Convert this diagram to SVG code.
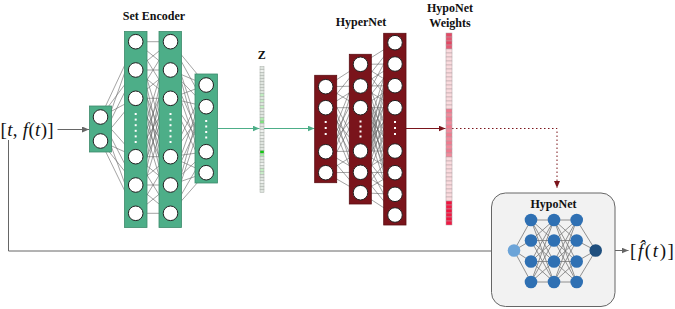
<svg xmlns="http://www.w3.org/2000/svg" width="675" height="309" viewBox="0 0 675 309">
<defs>
<style>
.lbl{font-family:"Liberation Serif","Times New Roman",serif;font-weight:bold;font-size:12px;fill:#111;text-anchor:middle}
.math{font-family:"Liberation Serif","DejaVu Serif",serif;font-size:19px;fill:#111}
.se{fill:#4dae88;stroke:#3d8a6c;stroke-width:0.8}
.hn{fill:#7a141b;stroke:#5a0e13;stroke-width:0.8}
.neu{fill:#fff;stroke:#222;stroke-width:1}
.dot{fill:#fff}
.cn{stroke:#666;stroke-width:0.6;fill:none}
.hcn{stroke:#777;stroke-width:0.8;fill:none}
.zc{stroke:#a8aea8;stroke-width:0.5}
.wc{stroke:#b0a0a4;stroke-width:0.5}
.hid{fill:#2f70b3}
</style>
<marker id="ag" markerWidth="8" markerHeight="6" refX="7" refY="3" orient="auto" markerUnits="userSpaceOnUse"><path d="M0,0 L7,3 L0,6 Z" fill="#666"/></marker>
<marker id="agr" markerWidth="8" markerHeight="6" refX="7" refY="3" orient="auto" markerUnits="userSpaceOnUse"><path d="M0,0 L7,3 L0,6 Z" fill="#4dae88"/></marker>
<marker id="ar" markerWidth="8" markerHeight="6" refX="7" refY="3" orient="auto" markerUnits="userSpaceOnUse"><path d="M0,0 L7,3 L0,6 Z" fill="#7a141b"/></marker>
</defs>

<!-- connectors -->
<g id="connectors">
 <!-- set encoder internal connections -->
 <g class="cn">
  <path d="M100.5,117 L135.7,41.7 M100.5,117 L135.7,70 M100.5,117 L135.7,98.3 M100.5,117 L135.7,156.7 M100.5,117 L135.7,185 M100.5,117 L135.7,213.3
  M100.5,141 L135.7,41.7 M100.5,141 L135.7,70 M100.5,141 L135.7,98.3 M100.5,141 L135.7,156.7 M100.5,141 L135.7,185 M100.5,141 L135.7,213.3"/>
  <path d="M135.7,41.7 L170.5,41.7 M135.7,41.7 L170.5,70 M135.7,41.7 L170.5,98.3 M135.7,41.7 L170.5,156.7 M135.7,41.7 L170.5,185 M135.7,41.7 L170.5,213.3
  M135.7,70 L170.5,41.7 M135.7,70 L170.5,70 M135.7,70 L170.5,98.3 M135.7,70 L170.5,156.7 M135.7,70 L170.5,185 M135.7,70 L170.5,213.3
  M135.7,98.3 L170.5,41.7 M135.7,98.3 L170.5,70 M135.7,98.3 L170.5,98.3 M135.7,98.3 L170.5,156.7 M135.7,98.3 L170.5,185 M135.7,98.3 L170.5,213.3
  M135.7,156.7 L170.5,41.7 M135.7,156.7 L170.5,70 M135.7,156.7 L170.5,98.3 M135.7,156.7 L170.5,156.7 M135.7,156.7 L170.5,185 M135.7,156.7 L170.5,213.3
  M135.7,185 L170.5,41.7 M135.7,185 L170.5,70 M135.7,185 L170.5,98.3 M135.7,185 L170.5,156.7 M135.7,185 L170.5,185 M135.7,185 L170.5,213.3
  M135.7,213.3 L170.5,41.7 M135.7,213.3 L170.5,70 M135.7,213.3 L170.5,98.3 M135.7,213.3 L170.5,156.7 M135.7,213.3 L170.5,185 M135.7,213.3 L170.5,213.3"/>
  <path d="M170.5,41.7 L206.2,85 M170.5,41.7 L206.2,106.7 M170.5,41.7 L206.2,151.7 M170.5,41.7 L206.2,172.7
  M170.5,70 L206.2,85 M170.5,70 L206.2,106.7 M170.5,70 L206.2,151.7 M170.5,70 L206.2,172.7
  M170.5,98.3 L206.2,85 M170.5,98.3 L206.2,106.7 M170.5,98.3 L206.2,151.7 M170.5,98.3 L206.2,172.7
  M170.5,156.7 L206.2,85 M170.5,156.7 L206.2,106.7 M170.5,156.7 L206.2,151.7 M170.5,156.7 L206.2,172.7
  M170.5,185 L206.2,85 M170.5,185 L206.2,106.7 M170.5,185 L206.2,151.7 M170.5,185 L206.2,172.7
  M170.5,213.3 L206.2,85 M170.5,213.3 L206.2,106.7 M170.5,213.3 L206.2,151.7 M170.5,213.3 L206.2,172.7"/>
 </g>
 <!-- hypernet internal connections -->
 <g class="cn">
  <path d="M325.7,86.7 L360.5,64.3 M325.7,86.7 L360.5,86 M325.7,86.7 L360.5,107.7 M325.7,86.7 L360.5,151 M325.7,86.7 L360.5,172.3 M325.7,86.7 L360.5,192.7
  M325.7,107.7 L360.5,64.3 M325.7,107.7 L360.5,86 M325.7,107.7 L360.5,107.7 M325.7,107.7 L360.5,151 M325.7,107.7 L360.5,172.3 M325.7,107.7 L360.5,192.7
  M325.7,151.7 L360.5,64.3 M325.7,151.7 L360.5,86 M325.7,151.7 L360.5,107.7 M325.7,151.7 L360.5,151 M325.7,151.7 L360.5,172.3 M325.7,151.7 L360.5,192.7
  M325.7,172.7 L360.5,64.3 M325.7,172.7 L360.5,86 M325.7,172.7 L360.5,107.7 M325.7,172.7 L360.5,151 M325.7,172.7 L360.5,172.3 M325.7,172.7 L360.5,192.7"/>
  <path d="M360.5,64.3 L395,42.7 M360.5,64.3 L395,64 M360.5,64.3 L395,85.7 M360.5,64.3 L395,107.7 M360.5,64.3 L395,151 M360.5,64.3 L395,172.7 M360.5,64.3 L395,194.3 M360.5,64.3 L395,215
  M360.5,86 L395,42.7 M360.5,86 L395,64 M360.5,86 L395,85.7 M360.5,86 L395,107.7 M360.5,86 L395,151 M360.5,86 L395,172.7 M360.5,86 L395,194.3 M360.5,86 L395,215
  M360.5,107.7 L395,42.7 M360.5,107.7 L395,64 M360.5,107.7 L395,85.7 M360.5,107.7 L395,107.7 M360.5,107.7 L395,151 M360.5,107.7 L395,172.7 M360.5,107.7 L395,194.3 M360.5,107.7 L395,215
  M360.5,151 L395,42.7 M360.5,151 L395,64 M360.5,151 L395,85.7 M360.5,151 L395,107.7 M360.5,151 L395,151 M360.5,151 L395,172.7 M360.5,151 L395,194.3 M360.5,151 L395,215
  M360.5,172.3 L395,42.7 M360.5,172.3 L395,64 M360.5,172.3 L395,85.7 M360.5,172.3 L395,107.7 M360.5,172.3 L395,151 M360.5,172.3 L395,172.7 M360.5,172.3 L395,194.3 M360.5,172.3 L395,215
  M360.5,192.7 L395,42.7 M360.5,192.7 L395,64 M360.5,192.7 L395,85.7 M360.5,192.7 L395,107.7 M360.5,192.7 L395,151 M360.5,192.7 L395,172.7 M360.5,192.7 L395,194.3 M360.5,192.7 L395,215"/>
 </g>
 <!-- flow arrows -->
 <line x1="57.5" y1="129.5" x2="89" y2="129.5" stroke="#666" stroke-width="1" marker-end="url(#ag)"/>
 <line x1="217.5" y1="128.5" x2="259.5" y2="128.5" stroke="#4dae88" stroke-width="1" marker-end="url(#agr)"/>
 <line x1="264" y1="128.5" x2="314.5" y2="128.5" stroke="#4dae88" stroke-width="1" marker-end="url(#agr)"/>
 <line x1="406" y1="128.5" x2="445.5" y2="128.5" stroke="#7a141b" stroke-width="1" marker-end="url(#ar)"/>
 <polyline points="452,128.5 557,128.5 557,188" fill="none" stroke="#7a141b" stroke-width="1" stroke-dasharray="1.5,2.5" marker-end="url(#ar)"/>
 <polyline points="8.5,140 8.5,251 507.5,251" fill="none" stroke="#666" stroke-width="1" marker-end="url(#ag)"/>
 <line x1="602" y1="250.5" x2="628.5" y2="250.5" stroke="#666" stroke-width="1" marker-end="url(#ag)"/>
</g>

<!-- labels -->
<text class="lbl" x="154" y="20">Set Encoder</text>
<text class="lbl" x="261.8" y="59">Z</text>
<text class="lbl" x="361" y="26">HyperNet</text>
<text class="lbl" x="450" y="11.5">HypoNet</text>
<text class="lbl" x="450" y="27">Weights</text>

<text class="math" x="0.5" y="135.5" letter-spacing="0.3">[<tspan font-style="italic">t</tspan>, <tspan font-style="italic">f</tspan>(<tspan font-style="italic">t</tspan>)]</text>
<text class="math" x="630" y="256.5" letter-spacing="1.6">[<tspan font-style="italic">f&#x302;</tspan>(<tspan font-style="italic">t</tspan>)]</text>

<!-- Set encoder layers -->
<g id="se-in">
 <rect class="se" x="89.5" y="106" width="22" height="46"/>
 <circle class="neu" cx="100.5" cy="117" r="7.3"/>
 <circle class="neu" cx="100.5" cy="141" r="7.3"/>
</g>
<g id="se-l1">
 <rect class="se" x="124.5" y="31.5" width="22.5" height="196"/>
 <circle class="neu" cx="135.7" cy="41.7" r="7.3"/>
 <circle class="neu" cx="135.7" cy="70" r="7.3"/>
 <circle class="neu" cx="135.7" cy="98.3" r="7.3"/>
 <circle class="neu" cx="135.7" cy="156.7" r="7.3"/>
 <circle class="neu" cx="135.7" cy="185" r="7.3"/>
 <circle class="neu" cx="135.7" cy="213.3" r="7.3"/>
 <g class="dot"><rect x="134.7" y="113" width="2" height="2"/><rect x="134.7" y="118.6" width="2" height="2"/><rect x="134.7" y="124.2" width="2" height="2"/><rect x="134.7" y="129.8" width="2" height="2"/><rect x="134.7" y="135.4" width="2" height="2"/><rect x="134.7" y="141" width="2" height="2"/></g>
</g>
<g id="se-l2">
 <rect class="se" x="159" y="31.5" width="22.5" height="196"/>
 <circle class="neu" cx="170.5" cy="41.7" r="7.3"/>
 <circle class="neu" cx="170.5" cy="70" r="7.3"/>
 <circle class="neu" cx="170.5" cy="98.3" r="7.3"/>
 <circle class="neu" cx="170.5" cy="156.7" r="7.3"/>
 <circle class="neu" cx="170.5" cy="185" r="7.3"/>
 <circle class="neu" cx="170.5" cy="213.3" r="7.3"/>
 <g class="dot"><rect x="169.5" y="113" width="2" height="2"/><rect x="169.5" y="118.6" width="2" height="2"/><rect x="169.5" y="124.2" width="2" height="2"/><rect x="169.5" y="129.8" width="2" height="2"/><rect x="169.5" y="135.4" width="2" height="2"/><rect x="169.5" y="141" width="2" height="2"/></g>
</g>
<g id="se-l3">
 <rect class="se" x="195" y="74" width="22.5" height="109"/>
 <circle class="neu" cx="206.2" cy="85" r="7.3"/>
 <circle class="neu" cx="206.2" cy="106.7" r="7.3"/>
 <circle class="neu" cx="206.2" cy="151.7" r="7.3"/>
 <circle class="neu" cx="206.2" cy="172.7" r="7.3"/>
 <g class="dot"><rect x="205.2" y="120" width="2" height="2"/><rect x="205.2" y="125.5" width="2" height="2"/><rect x="205.2" y="131" width="2" height="2"/><rect x="205.2" y="136.5" width="2" height="2"/></g>
</g>

<!-- Z vector -->
<g id="z-vector">
 <g class="zc" fill="#dfe5df">
  <rect x="260" y="66.5" width="4" height="3"/><rect x="260" y="69.5" width="4" height="3" fill="#eef1ee"/><rect x="260" y="72.5" width="4" height="3"/><rect x="260" y="75.5" width="4" height="3"/>
  <rect x="260" y="78.5" width="4" height="3"/><rect x="260" y="81.5" width="4" height="3"/><rect x="260" y="84.5" width="4" height="3"/><rect x="260" y="87.5" width="4" height="3"/>
  <rect x="260" y="90.5" width="4" height="3"/><rect x="260" y="93.5" width="4" height="3" fill="#c2eec2"/><rect x="260" y="96.5" width="4" height="3"/><rect x="260" y="99.5" width="4" height="3" fill="#c8ecc8"/>
  <rect x="260" y="102.5" width="4" height="3"/><rect x="260" y="105.5" width="4" height="3" fill="#c2eec2"/><rect x="260" y="108.5" width="4" height="3"/><rect x="260" y="111.5" width="4" height="3"/>
  <rect x="260" y="114.5" width="4" height="3"/><rect x="260" y="117.5" width="4" height="3" fill="#b2ecb2"/><rect x="260" y="120.5" width="4" height="3" fill="#7de27d"/><rect x="260" y="123.5" width="4" height="3"/>
  <rect x="260" y="126.5" width="4" height="3"/><rect x="260" y="129.5" width="4" height="3" fill="#eef1ee"/><rect x="260" y="132.5" width="4" height="3"/><rect x="260" y="135.5" width="4" height="3" fill="#eef1ee"/>
  <rect x="260" y="138.5" width="4" height="3"/><rect x="260" y="141.5" width="4" height="3"/><rect x="260" y="144.5" width="4" height="3"/><rect x="260" y="147.5" width="4" height="3"/>
  <rect x="260" y="150.5" width="4" height="3" fill="#12c812"/><rect x="260" y="153.5" width="4" height="3" fill="#a8eaa8"/><rect x="260" y="156.5" width="4" height="3"/><rect x="260" y="159.5" width="4" height="3"/>
  <rect x="260" y="162.5" width="4" height="3" fill="#eef1ee"/><rect x="260" y="165.5" width="4" height="3"/><rect x="260" y="168.5" width="4" height="3" fill="#c2eec2"/><rect x="260" y="171.5" width="4" height="3" fill="#c8ecc8"/>
  <rect x="260" y="174.5" width="4" height="3"/><rect x="260" y="177.5" width="4" height="3"/><rect x="260" y="180.5" width="4" height="3" fill="#eef1ee"/><rect x="260" y="183.5" width="4" height="3"/>
  <rect x="260" y="186.5" width="4" height="3"/><rect x="260" y="189.5" width="4" height="3"/>
 </g>
</g>

<!-- HyperNet layers -->
<g id="hn-l1">
 <rect class="hn" x="314.7" y="75.3" width="22" height="107.4"/>
 <circle class="neu" cx="325.7" cy="86.7" r="7.3"/>
 <circle class="neu" cx="325.7" cy="107.7" r="7.3"/>
 <circle class="neu" cx="325.7" cy="151.7" r="7.3"/>
 <circle class="neu" cx="325.7" cy="172.7" r="7.3"/>
 <g class="dot"><rect x="324.7" y="121" width="2" height="2"/><rect x="324.7" y="127" width="2" height="2"/><rect x="324.7" y="133" width="2" height="2"/></g>
</g>
<g id="hn-l2">
 <rect class="hn" x="349.3" y="54.3" width="22" height="149.7"/>
 <circle class="neu" cx="360.5" cy="64.3" r="7.3"/>
 <circle class="neu" cx="360.5" cy="86" r="7.3"/>
 <circle class="neu" cx="360.5" cy="107.7" r="7.3"/>
 <circle class="neu" cx="360.5" cy="151" r="7.3"/>
 <circle class="neu" cx="360.5" cy="172.3" r="7.3"/>
 <circle class="neu" cx="360.5" cy="192.7" r="7.3"/>
 <g class="dot"><rect x="359.5" y="120.5" width="2" height="2"/><rect x="359.5" y="125.5" width="2" height="2"/><rect x="359.5" y="130.5" width="2" height="2"/><rect x="359.5" y="135.5" width="2" height="2"/></g>
</g>
<g id="hn-l3">
 <rect class="hn" x="383.7" y="33.3" width="22.3" height="191.7"/>
 <circle class="neu" cx="395" cy="42.7" r="7.3"/>
 <circle class="neu" cx="395" cy="64" r="7.3"/>
 <circle class="neu" cx="395" cy="85.7" r="7.3"/>
 <circle class="neu" cx="395" cy="107.7" r="7.3"/>
 <circle class="neu" cx="395" cy="151" r="7.3"/>
 <circle class="neu" cx="395" cy="172.7" r="7.3"/>
 <circle class="neu" cx="395" cy="194.3" r="7.3"/>
 <circle class="neu" cx="395" cy="215" r="7.3"/>
 <g class="dot"><rect x="394" y="121" width="2" height="2"/><rect x="394" y="127" width="2" height="2"/><rect x="394" y="133" width="2" height="2"/></g>
</g>

<!-- HypoNet weights vector -->
<g id="weights">
 <g class="wc" fill="#fadadd">
  <rect x="446" y="33" width="6" height="4" fill="#e34a66"/><rect x="446" y="37" width="6" height="4" fill="#e65570"/><rect x="446" y="41" width="6" height="4" fill="#e24763"/><rect x="446" y="45" width="6" height="4" fill="#e65a74"/>
  <rect x="446" y="49" width="6" height="4"/><rect x="446" y="53" width="6" height="4"/><rect x="446" y="57" width="6" height="4"/><rect x="446" y="61" width="6" height="4"/>
  <rect x="446" y="65" width="6" height="4"/><rect x="446" y="69" width="6" height="4"/><rect x="446" y="73" width="6" height="4"/><rect x="446" y="77" width="6" height="4"/>
  <rect x="446" y="81" width="6" height="4"/><rect x="446" y="85" width="6" height="4"/><rect x="446" y="89" width="6" height="4"/><rect x="446" y="93" width="6" height="4"/>
  <rect x="446" y="97" width="6" height="4"/><rect x="446" y="101" width="6" height="4"/><rect x="446" y="105" width="6" height="4"/>
  <rect x="446" y="109" width="6" height="4" fill="#f07a8e"/><rect x="446" y="113" width="6" height="4" fill="#f2899b"/><rect x="446" y="117" width="6" height="4" fill="#f07a8e"/><rect x="446" y="121" width="6" height="4" fill="#f2899b"/>
  <rect x="446" y="125" width="6" height="4" fill="#f07a8e"/><rect x="446" y="129" width="6" height="4" fill="#f2899b"/><rect x="446" y="133" width="6" height="4" fill="#f07a8e"/><rect x="446" y="137" width="6" height="4" fill="#f2899b"/>
  <rect x="446" y="141" width="6" height="4" fill="#f07a8e"/><rect x="446" y="145" width="6" height="4" fill="#f2899b"/><rect x="446" y="149" width="6" height="4" fill="#f07a8e"/><rect x="446" y="153" width="6" height="4" fill="#f2899b"/>
  <rect x="446" y="157" width="6" height="4"/><rect x="446" y="161" width="6" height="4"/><rect x="446" y="165" width="6" height="4"/><rect x="446" y="169" width="6" height="4"/>
  <rect x="446" y="173" width="6" height="4"/><rect x="446" y="177" width="6" height="4"/><rect x="446" y="181" width="6" height="4"/><rect x="446" y="185" width="6" height="4"/>
  <rect x="446" y="189" width="6" height="4"/><rect x="446" y="193" width="6" height="4"/><rect x="446" y="197" width="6" height="4"/>
  <rect x="446" y="201" width="6" height="4" fill="#f0143e"/><rect x="446" y="205" width="6" height="4" fill="#f01a44"/><rect x="446" y="209" width="6" height="4" fill="#f0143e"/><rect x="446" y="213" width="6" height="4" fill="#f01a44"/>
  <rect x="446" y="217" width="6" height="4" fill="#f0143e"/><rect x="446" y="221" width="6" height="4" fill="#f01a44"/>
 </g>
</g>

<!-- HypoNet -->
<g id="hyponet">
 <rect x="491.5" y="193" width="123.5" height="113.5" rx="14" fill="#f2f2f2" stroke="#666" stroke-width="1"/>
 <text class="lbl" x="553.5" y="207.5">HypoNet</text>
 <g class="hcn">
  <path d="M514,250.5 L531,220 M514,250.5 L531,240.5 M514,250.5 L531,261.5 M514,250.5 L531,282
  M531,220 L554,220 M531,220 L554,240.5 M531,220 L554,261.5 M531,220 L554,282
  M531,240.5 L554,220 M531,240.5 L554,240.5 M531,240.5 L554,261.5 M531,240.5 L554,282
  M531,261.5 L554,220 M531,261.5 L554,240.5 M531,261.5 L554,261.5 M531,261.5 L554,282
  M531,282 L554,220 M531,282 L554,240.5 M531,282 L554,261.5 M531,282 L554,282
  M554,220 L576.7,220 M554,220 L576.7,240.5 M554,220 L576.7,261.5 M554,220 L576.7,282
  M554,240.5 L576.7,220 M554,240.5 L576.7,240.5 M554,240.5 L576.7,261.5 M554,240.5 L576.7,282
  M554,261.5 L576.7,220 M554,261.5 L576.7,240.5 M554,261.5 L576.7,261.5 M554,261.5 L576.7,282
  M554,282 L576.7,220 M554,282 L576.7,240.5 M554,282 L576.7,261.5 M554,282 L576.7,282
  M576.7,220 L595.7,250.5 M576.7,240.5 L595.7,250.5 M576.7,261.5 L595.7,250.5 M576.7,282 L595.7,250.5"/>
 </g>
 <circle cx="514" cy="250.5" r="6.3" fill="#6ca4d8"/>
 <g class="hid">
  <circle cx="531" cy="220" r="6.3"/><circle cx="531" cy="240.5" r="6.3"/><circle cx="531" cy="261.5" r="6.3"/><circle cx="531" cy="282" r="6.3"/>
  <circle cx="554" cy="220" r="6.3"/><circle cx="554" cy="240.5" r="6.3"/><circle cx="554" cy="261.5" r="6.3"/><circle cx="554" cy="282" r="6.3"/>
  <circle cx="576.7" cy="220" r="6.3"/><circle cx="576.7" cy="240.5" r="6.3"/><circle cx="576.7" cy="261.5" r="6.3"/><circle cx="576.7" cy="282" r="6.3"/>
 </g>
 <circle cx="595.7" cy="250.5" r="6.3" fill="#1f4f7e"/>
</g>
</svg>
